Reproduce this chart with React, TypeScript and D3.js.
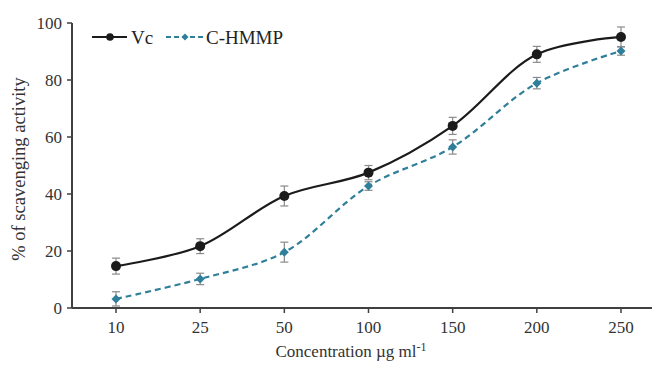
import * as d3 from "d3"

const concentrations = ["10", "25", "50", "100", "150", "200", "250"]
const vcValues = [14.7, 21.7, 39.3, 47.5, 63.9, 89.0, 95.1]
const vcErrors = [2.8, 2.6, 3.5, 2.5, 3.0, 2.8, 3.5]
const hmmpValues = [3.2, 10.2, 19.6, 42.8, 56.5, 78.9, 90.2]
const hmmpErrors = [2.5, 2.0, 3.5, 1.5, 2.5, 2.0, 1.5]
const yTicks = [0, 20, 40, 60, 80, 100]

const W = 653, H = 365
const m = { left: 72, right: 1, top: 23, bottom: 57 }
const font = "'Liberation Serif', 'Times New Roman', serif"
const AXIS = "#404040"
const VC = "#1b1b1b"
const HM = "#2f7f9a"
const ERR = "#8a8a8a"

export default function App() {
  const x = d3.scalePoint<string>().domain(concentrations).range([116, 621])
  const y = d3.scaleLinear().domain([0, 100]).range([H - m.bottom, m.top])
  const line = d3.line<number>().x((_, i) => x(concentrations[i])!).y(d => y(d)).curve(d3.curveCatmullRom.alpha(0.5))

  const errBars = (vals: number[], errs: number[]) =>
    vals.map((v, i) => {
      const cx = x(concentrations[i])!
      const y0 = y(v + errs[i]), y1 = y(v - errs[i])
      return (
        <g key={i} stroke={ERR} strokeWidth={1.2}>
          <line x1={cx} x2={cx} y1={y0} y2={y1} />
          <line x1={cx - 4} x2={cx + 4} y1={y0} y2={y0} />
          <line x1={cx - 4} x2={cx + 4} y1={y1} y2={y1} />
        </g>
      )
    })

  const diamond = (cx: number, cy: number, r = 4.5) => `M${cx},${cy - r}L${cx + r},${cy}L${cx},${cy + r}L${cx - r},${cy}Z`

  return (
    <svg width={W} height={H} style={{ position: "absolute", left: 0, top: 0, background: "#fff" }} fontFamily={font}>
      {/* y axis */}
      <line x1={m.left} x2={m.left} y1={y(100)} y2={y(0)} stroke={AXIS} strokeWidth={2} />
      {yTicks.map(t => (
        <g key={t}>
          <line x1={m.left - 5} x2={m.left} y1={y(t)} y2={y(t)} stroke={AXIS} strokeWidth={1.5} />
          <text x={m.left - 10} y={y(t)} dy="0.35em" textAnchor="end" fontSize={17} fill="#333">{t}</text>
        </g>
      ))}
      {/* x axis */}
      <line x1={m.left} x2={W - m.right} y1={y(0)} y2={y(0)} stroke={AXIS} strokeWidth={2} />
      {concentrations.map(c => (
        <g key={c}>
          <line x1={x(c)} x2={x(c)} y1={y(0)} y2={y(0) + 5} stroke={AXIS} strokeWidth={1.5} />
          <text x={x(c)} y={y(0) + 25} textAnchor="middle" fontSize={17} fill="#333">{c}</text>
        </g>
      ))}
      <text x={351} y={H - 8} textAnchor="middle" fontSize={17} fill="#333">
        Concentration µg ml<tspan dy={-6} fontSize={12}>-1</tspan>
      </text>
      <text transform={`translate(25,169) rotate(-90)`} textAnchor="middle" fontSize={18.5} fill="#333">% of scavenging activity</text>

      {/* series */}
      {errBars(vcValues, vcErrors)}
      {errBars(hmmpValues, hmmpErrors)}
      <path d={line(vcValues)!} fill="none" stroke={VC} strokeWidth={2.2} />
      <path d={line(hmmpValues)!} fill="none" stroke={HM} strokeWidth={2.2} strokeDasharray="6,4" />
      {vcValues.map((v, i) => <circle key={i} cx={x(concentrations[i])} cy={y(v)} r={5} fill={VC} />)}
      {hmmpValues.map((v, i) => <path key={i} d={diamond(x(concentrations[i])!, y(v))} fill={HM} />)}

      {/* legend */}
      <line x1={92} x2={127} y1={37} y2={37} stroke={VC} strokeWidth={2.2} />
      <circle cx={110} cy={37} r={3.8} fill={VC} />
      <text x={131} y={37} dy="0.35em" fontSize={19} fill="#222">Vc</text>
      <line x1={166} x2={204} y1={37} y2={37} stroke={HM} strokeWidth={2} strokeDasharray="5,3" />
      <path d={diamond(185, 37, 3.5)} fill={HM} />
      <text x={206} y={37} dy="0.35em" fontSize={19} fill="#222">C-HMMP</text>
    </svg>
  )
}
